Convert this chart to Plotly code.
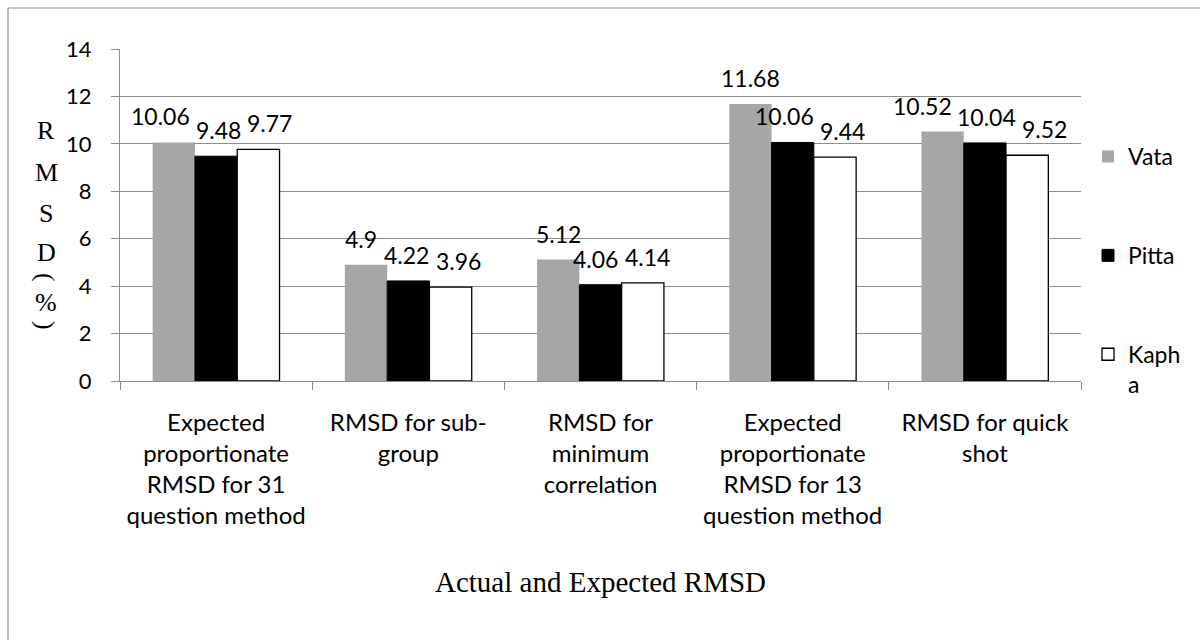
import plotly.graph_objects as go

# Categories (wrapped as drawn on the axis)
categories = [
    "Expected<br>proportionate<br>RMSD for 31<br>question method",
    "RMSD for sub-<br>group",
    "RMSD for<br>minimum<br>correlation",
    "Expected<br>proportionate<br>RMSD for 13<br>question method",
    "RMSD for quick<br>shot",
]
series_names = ["Vata", "Pitta", "Kaph<br>a"]
vata = [10.06, 4.9, 5.12, 11.68, 10.52]
pitta = [9.48, 4.22, 4.06, 10.06, 10.04]
kapha = [9.77, 3.96, 4.14, 9.44, 9.52]
y_ticks = [0, 2, 4, 6, 8, 10, 12, 14]

W, H = 1200, 640
L, R, T, B = 120, 119, 49, 259
plot_w = W - L - R
plot_h = H - T - B
Y_MAX = 14
BARGAP = 0.34

SANS = "Lato, 'Open Sans', sans-serif"
SERIF = "'Liberation Serif', 'Times New Roman', serif"
GRID = "#8c8c8c"
LABEL_SIZE = 23

styles = [
    dict(color="#a6a6a6", line=dict(color="#a6a6a6", width=0)),
    dict(color="#000000", line=dict(color="#000000", width=1)),
    dict(color="#ffffff", line=dict(color="#000000", width=1.3)),
]
all_series = [vata, pitta, kapha]

fig = go.Figure()
for name, vals, st in zip(series_names, all_series, styles):
    fig.add_trace(go.Bar(
        x=categories, y=vals, name=name, marker=st,
        legendgroup=name, cliponaxis=False,
    ))


def px_x(x):
    return (x - L) / plot_w


def px_y(y):
    return (H - B - y) / plot_h


# Value labels: centred over each bar, then nudged sideways where
# neighbouring labels in the same group would collide.
cat_w = plot_w / len(categories)
bar_w = cat_w * (1 - BARGAP) / len(all_series)
unit = plot_h / Y_MAX
annotations = []
for ci, cat in enumerate(categories):
    texts = [f"{s[ci]:g}" for s in all_series]
    widths = [len(t) * 0.53 * LABEL_SIZE for t in texts]
    tops = [s[ci] * unit for s in all_series]
    centers = [(si - (len(all_series) - 1) / 2) * bar_w for si in range(len(all_series))]
    shifts = [0.0] * len(all_series)
    for _ in range(20):
        for a in range(len(all_series) - 1):
            b = a + 1
            if abs(tops[a] - tops[b]) >= LABEL_SIZE:
                continue
            right_a = centers[a] + shifts[a] + widths[a] / 2
            left_b = centers[b] + shifts[b] - widths[b] / 2
            overlap = right_a + 3 - left_b
            if overlap > 0:
                shifts[a] -= overlap / 2
                shifts[b] += overlap / 2
    for si, s in enumerate(all_series):
        annotations.append(dict(
            text=texts[si], x=cat, y=s[ci], xref="x", yref="y",
            xanchor="center", yanchor="bottom", showarrow=False,
            xshift=centers[si] + shifts[si], yshift=10,
            font=dict(family=SANS, size=LABEL_SIZE, color="#000000"),
        ))

# stacked y-axis title: letters upright, brackets turned sideways
title_parts = [("R", 0), ("M", 0), ("S", 0), ("D", 0), ("(", 90), ("%", 0), (")", 90)]
title_ys = [130, 172, 213, 252, 277, 302, 325]
for (ch, ang), yy in zip(title_parts, title_ys):
    annotations.append(dict(
        text=ch, x=px_x(46), y=px_y(yy), xref="paper", yref="paper",
        xanchor="center", yanchor="middle", showarrow=False, textangle=ang,
        font=dict(family=SERIF, size=26, color="#000000"),
    ))
# chart caption below the axis labels
annotations.append(dict(
    text="Actual and Expected RMSD", x=0.5, y=px_y(582),
    xref="paper", yref="paper", xanchor="center", yanchor="middle",
    showarrow=False, font=dict(family=SERIF, size=29, color="#000000"),
))

shapes = [
    dict(type="line", xref="paper", yref="paper",
         x0=px_x(8), x1=px_x(W + 5), y0=px_y(8), y1=px_y(8),
         line=dict(color="#8c8c8c", width=1.2)),
    dict(type="line", xref="paper", yref="paper",
         x0=px_x(8), x1=px_x(8), y0=px_y(8), y1=px_y(H + 5),
         line=dict(color="#8c8c8c", width=1.2)),
]

fig.update_layout(
    width=W, height=H,
    margin=dict(l=L, r=R, t=T, b=B),
    paper_bgcolor="#ffffff", plot_bgcolor="#ffffff",
    barmode="group", bargap=BARGAP, bargroupgap=0.0,
    showlegend=True,
    legend=dict(
        x=px_x(1088), y=px_y(135), xanchor="left", yanchor="top",
        font=dict(family=SANS, size=23, color="#000000"),
        tracegroupgap=66, valign="top", bgcolor="rgba(0,0,0,0)",
        itemwidth=30,
    ),
    annotations=annotations,
    shapes=shapes,
    xaxis=dict(
        type="category", tickson="boundaries", ticks="outside", ticklen=8,
        tickcolor=GRID, showline=True, linecolor=GRID, linewidth=1,
        showgrid=False, tickfont=dict(family=SANS, size=24, color="#000000"),
        ticklabelstandoff=20,
    ),
    yaxis=dict(
        range=[0, Y_MAX], tickvals=y_ticks, ticks="outside", ticklen=8,
        tickcolor=GRID, showline=True, linecolor=GRID, linewidth=1,
        showgrid=True, gridcolor=GRID, gridwidth=1, zeroline=False,
        tickfont=dict(family=SANS, size=22, color="#000000"),
        ticklabelstandoff=15,
    ),
)

fig.write_html("out.html")
